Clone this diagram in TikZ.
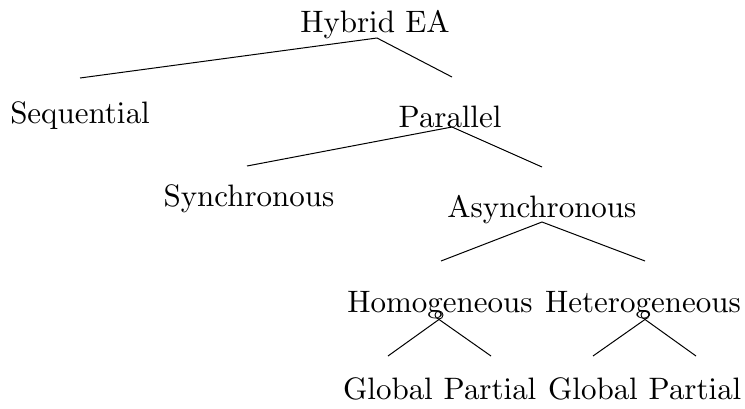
\documentclass[tikz,border=0pt]{standalone}
\font\treefont=cmr10 at 31pt
\tikzstyle{every node}=[inner sep=0pt,anchor=base,font=\treefont]
\tikzstyle{branch}=[line width=1pt]
\tikzstyle{knot}=[draw,circle,line width=0.9pt,minimum size=8pt,anchor=center]

\begin{document}
\begin{tikzpicture}[x=1pt,y=-1pt]
  \useasboundingbox (0,0) rectangle (745,408);
  % labels
  \node (hybrid) at (375,32) {Hybrid EA};
  \node (seq) at (80,123) {Sequential};
  \node (par) at (450,127) {Parallel};
  \node (syn) at (249,206) {Synchronous};
  \node (asyn) at (542,217) {Asynchronous};
  \node (homo) at (440,312) {Homogeneous};
  \node (hetero) at (643,312) {Heterogeneous};
  \node (glob1) at (388,399) {Global};
  \node (part1) at (490,399) {Partial};
  \node (glob2) at (593,399) {Global};
  \node (part2) at (695,399) {Partial};
  % branch points
  \coordinate (hybridtop) at (377,38);
  \coordinate (seqend) at (80,78);
  \coordinate (parend) at (452,77);
  \coordinate (partop) at (452,127);
  \coordinate (synend) at (247,166);
  \coordinate (asynend) at (542,167);
  \coordinate (asyntop) at (542,222);
  \coordinate (homoend) at (441,261);
  \coordinate (heteroend) at (645,261);
  \node[knot] (homoknot) at (439,315) {};
  \node[knot] (heteroknot) at (645,315) {};
  \coordinate (glob1end) at (388,356);
  \coordinate (part1end) at (491,356);
  \coordinate (glob2end) at (593,356);
  \coordinate (part2end) at (696,356);
  % edges
  \draw[branch] (seqend) -- (hybridtop) -- (parend);
  \draw[branch] (synend) -- (partop) -- (asynend);
  \draw[branch] (homoend) -- (asyntop) -- (heteroend);
  \draw[branch] (glob1end) -- (homoknot.south) -- (part1end);
  \draw[branch] (glob2end) -- (heteroknot.south) -- (part2end);
\end{tikzpicture}
\end{document}
